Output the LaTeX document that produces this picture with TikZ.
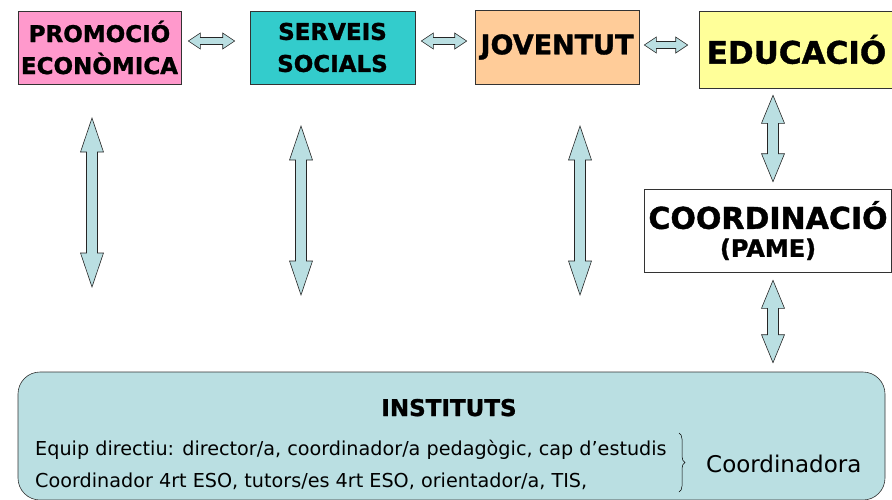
\documentclass[tikz,border=0pt]{standalone}
\usepackage{fontspec}
\setmainfont{DejaVu Sans}
\newfontfamily\titlefont{DejaVu Sans}[FakeBold=1.2]
\usetikzlibrary{calc}
\usetikzlibrary{decorations.pathreplacing}
\definecolor{promo}{HTML}{FF99CC}
\definecolor{serveis}{HTML}{33CCCC}
\definecolor{joves}{HTML}{FFCC99}
\definecolor{educa}{HTML}{FFFF99}
\definecolor{blau}{HTML}{BADFE2}
\newcommand{\hfat}[2]{\path[fat] let \p1=#1, \p2=#2 in (\x1,\y1)--(\x1+12pt,\y1+8pt)--(\x1+12pt,\y1+3.5pt)--(\x2-12pt,\y1+3.5pt)--(\x2-12pt,\y1+8pt)--(\x2,\y1)--(\x2-12pt,\y1-8pt)--(\x2-12pt,\y1-3.5pt)--(\x1+12pt,\y1-3.5pt)--(\x1+12pt,\y1-8pt)--cycle;}
\newcommand{\vfat}[3]{\path[fat] let \p1=#1, \p2=#2 in (\x1,\y1)--(\x1+11.5pt,\y1-#3pt)--(\x1+5.5pt,\y1-#3pt)--(\x1+5.5pt,\y2+#3pt)--(\x1+11.5pt,\y2+#3pt)--(\x1,\y2)--(\x1-11.5pt,\y2+#3pt)--(\x1-5.5pt,\y2+#3pt)--(\x1-5.5pt,\y1-#3pt)--(\x1-11.5pt,\y1-#3pt)--cycle;}
\begin{document}
\begin{tikzpicture}[x=1pt,y=-1pt,
    caixa/.style={draw=black!80,line width=0.6pt,align=center,inner sep=0pt,font=\titlefont\bfseries\fontsize{#1}{32}\selectfont},
    fat/.style={draw=black!85,line width=0.6pt,fill=blau},
    linia/.style={anchor=base west,inner sep=0pt,font=\fontsize{19.2}{22}\selectfont}]
    \useasboundingbox (0,0) rectangle (892,499);
    \node[caixa=23,fill=promo,minimum width=163,minimum height=73](prom)at(99.5,47.5){PROMOCIÓ\\ECONÒMICA};
    \node[caixa=23,fill=serveis,minimum width=165,minimum height=73](serv)at(332.5,47.5){SERVEIS\\SOCIALS};
    \node[caixa=27,fill=joves,minimum width=164,minimum height=74](jov)at(557,47){JOVENTUT};
    \node[caixa=31,fill=educa,minimum width=195,minimum height=77](edu)at(796.5,49.5){EDUCACIÓ};
    \node[caixa=30,fill=white,minimum width=247,minimum height=83](pame)at(768,230.5){COORDINACIÓ\\[-4pt]{\fontsize{24}{24}\selectfont(PAME)}};
    \node[draw=black!80,line width=0.6pt,fill=blau,rounded corners=22,minimum width=867,minimum height=128](inst)at(451.5,436){};
    \node[font=\titlefont\bfseries\fontsize{23}{24}\selectfont,anchor=base](titol)at(449,416){INSTITUTS};
    \node[linia](l1)at(35,455){Equip directiu: director/a, coordinador/a pedagògic, cap d’estudis};
    \node[linia](l2)at(35,487){Coordinador 4rt ESO, tutors/es 4rt ESO, orientador/a, TIS,};
    \draw[line width=0.5pt,decorate,decoration={brace,amplitude=6}](679,433)--(679,492);
    \node[anchor=base west,inner sep=0pt,font=\fontsize{23}{28}\selectfont](coordra)at(706,472){Coordinadora};
    \coordinate(eix)at(773,0);
    \coordinate(pa)at(92,118);\coordinate(pb)at(92,287);
    \coordinate(sa)at(301,126);\coordinate(sb)at(301,295);
    \coordinate(ja)at(580,126);\coordinate(jb)at(580,295);
    \hfat{([shift={(7,-6.5)}]prom.east)}{([shift={(-15,-6.5)}]serv.west)}
    \hfat{([shift={(6,-6.5)}]serv.east)}{([shift={(-8,-6)}]jov.west)}
    \hfat{([shift={(5,-2)}]jov.east)}{([shift={(-11,-4.5)}]edu.west)}
    \vfat{(pa)}{(pb)}{34}
    \vfat{(sa)}{(sb)}{34}
    \vfat{(ja)}{(jb)}{34}
    \vfat{([yshift=-7]edu.south -| eix)}{([yshift=7]pame.north -| eix)}{28}
    \vfat{([yshift=-8]pame.south -| eix)}{([yshift=9]inst.north -| eix)}{28}
\end{tikzpicture}
\end{document}
